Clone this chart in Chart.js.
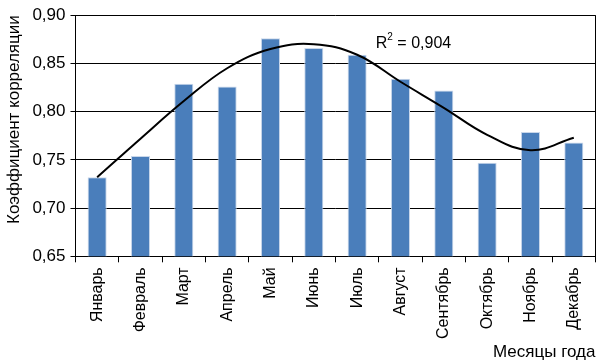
<!DOCTYPE html>
<html>
<head>
<meta charset="utf-8">
<script src="https://cdn.jsdelivr.net/npm/chart.js@4.4.0/dist/chart.umd.min.js"></script>
<style>
  html, body { margin: 0; padding: 0; background: #fff; }
  #wrap { width: 598px; height: 361px; }
</style>
</head>
<body>
<div id="wrap"><canvas id="corrChart" width="598" height="361"></canvas></div>
<script>
const months = ['Январь', 'Февраль', 'Март', 'Апрель', 'Май', 'Июнь',
                'Июль', 'Август', 'Сентябрь', 'Октябрь', 'Ноябрь', 'Декабрь'];
const correlation = [0.732, 0.754, 0.829, 0.826, 0.876, 0.866,
                     0.859, 0.834, 0.822, 0.747, 0.779, 0.768];
// polynomial trend at each month
const trend = [0.732, 0.772, 0.811, 0.845, 0.865, 0.870,
               0.859, 0.831, 0.804, 0.776, 0.760, 0.773];
const yTicks = [0.65, 0.70, 0.75, 0.80, 0.85, 0.90];
const rSquared = '0,904';

const FONT = 'Liberation Sans, Arial, sans-serif';

// frame around the plot + R² label
const framePlugin = {
    id: 'frame',
    afterDraw(chart) {
        const a = chart.chartArea;
        const ctx = chart.ctx;
        ctx.save();
        ctx.strokeStyle = '#000';
        ctx.lineWidth = 1;
        ctx.beginPath();
        ctx.moveTo(Math.round(a.right) + 0.5, a.top);
        ctx.lineTo(Math.round(a.right) + 0.5, a.bottom);
        ctx.stroke();

        const xs = chart.scales.x;
        const x = (xs.getPixelForValue(6) + xs.getPixelForValue(7)) / 2 - 3;
        const y = chart.scales.y.getPixelForValue(0.871);
        ctx.fillStyle = '#000';
        ctx.textBaseline = 'middle';
        ctx.font = '16px ' + FONT;
        ctx.fillText('R', x, y);
        let w = ctx.measureText('R').width;
        ctx.font = '10px ' + FONT;
        ctx.fillText('2', x + w, y - 6);
        w += ctx.measureText('2').width;
        ctx.font = '16px ' + FONT;
        ctx.fillText(' = ' + rSquared, x + w, y);
        ctx.restore();
    }
};

new Chart(document.getElementById('corrChart'), {
    type: 'bar',
    data: {
        labels: months,
        datasets: [{
            type: 'line',
            data: trend,
            borderColor: '#000',
            borderWidth: 2,
            pointRadius: 0,
            tension: 0.4,
            fill: false,
            order: 0
        }, {
            data: correlation,
            backgroundColor: '#4a7ebb',
            borderColor: '#c9d7ea',
            borderWidth: { left: 1, right: 1, top: 1, bottom: 0 },
            barPercentage: 0.44,
            categoryPercentage: 1.0,
            order: 1
        }]
    },
    plugins: [framePlugin],
    options: {
        responsive: false,
        animation: false,
        layout: { padding: { left: 4, right: 0, top: 6, bottom: 0 } },
        plugins: {
            legend: { display: false },
            tooltip: { enabled: false }
        },
        scales: {
            x: {
                grid: {
                    offset: true,
                    drawOnChartArea: false,
                    drawTicks: true,
                    tickLength: 6,
                    color: '#000'
                },
                border: { display: true, color: '#000', width: 1 },
                ticks: {
                    autoSkip: false,
                    minRotation: 90,
                    maxRotation: 90,
                    color: '#000',
                    padding: 5,
                    font: { family: FONT, size: 16 }
                },
                title: {
                    display: true,
                    text: 'Месяцы года',
                    align: 'end',
                    color: '#000',
                    padding: { top: 0, bottom: 0 },
                    font: { family: FONT, size: 17, lineHeight: 1.0 }
                }
            },
            y: {
                min: 0.65,
                max: 0.90,
                afterBuildTicks: (axis) => {
                    axis.ticks = yTicks.map(v => ({ value: v }));
                },
                grid: {
                    color: '#000',
                    lineWidth: 1,
                    drawTicks: true,
                    tickLength: 5
                },
                border: { display: true, color: '#000', width: 1 },
                ticks: {
                    color: '#000',
                    padding: 5,
                    font: { family: FONT, size: 17 },
                    callback: (v) => Number(v).toFixed(2).replace('.', ',')
                },
                title: {
                    display: true,
                    text: 'Коэффициент корреляции',
                    align: 'end',
                    color: '#000',
                    padding: { top: 0, bottom: 3 },
                    font: { family: FONT, size: 17 }
                }
            }
        }
    }
});
</script>
</body>
</html>
